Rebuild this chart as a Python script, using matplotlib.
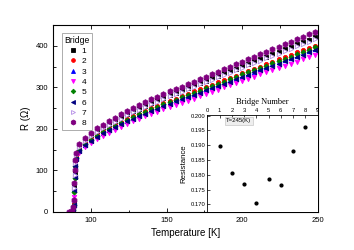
import matplotlib
matplotlib.use("Agg")
import matplotlib.pyplot as plt
import numpy as np

# ---------------- data ----------------
T_trans = [85.5, 86.8, 87.6, 88.2, 88.6, 89.0, 89.4, 89.8, 90.4]
T_main = list(range(92, 249, 4))

trans = {
    1: [0, 0, 2, 8, 25, 60, 95, 120, 138],
    2: [0, 0, 1, 6, 20, 50, 85, 112, 132],
    3: [0, 0, 1, 6, 20, 55, 88, 112, 130],
    4: [0, 0, 1, 4, 15, 35, 80, 105, 125],
    5: [0, 0, 1, 5, 18, 48, 82, 110, 130],
    6: [0, 0, 1, 5, 18, 52, 85, 110, 128],
    7: [0, 0, 2, 10, 28, 58, 90, 118, 136],
    8: [0, 1, 3, 12, 30, 70, 100, 125, 142],
}

main = {
    1: [158,174,185,195,204,212,220,228,236,243,249,256,263,269,275,281,287,293,299,305,
        310,316,322,328,334,340,345,351,357,363,369,374,380,386,392,398,404,409,415,421],
    2: [150,165,176,185,194,202,209,217,224,231,237,243,250,255,262,267,273,278,284,290,
        295,301,306,312,317,323,328,334,339,345,350,356,361,367,372,378,384,389,395,400],
    3: [148,162,173,182,190,198,205,213,220,226,233,239,245,251,257,262,268,273,279,284,
        290,295,300,306,311,317,322,328,333,338,344,349,355,360,366,371,376,382,387,393],
    4: [142,156,166,175,183,191,198,205,212,218,224,230,236,241,247,253,258,263,268,273,
        279,284,289,294,300,305,310,315,321,326,331,336,341,347,352,357,362,368,373,378],
    5: [149,163,174,184,192,200,207,215,222,228,235,241,247,253,259,265,270,276,281,287,
        292,298,303,309,314,320,325,331,336,341,347,352,358,363,369,374,380,385,391,396],
    6: [146,161,172,180,189,197,204,211,218,225,231,237,243,249,255,260,266,271,277,282,
        287,293,298,304,309,314,320,325,330,336,341,347,352,357,363,368,374,379,384,390],
    7: [156,171,183,193,201,210,217,225,233,240,246,253,260,265,272,278,284,289,295,301,
        307,312,318,324,330,335,341,347,353,358,364,370,376,381,387,393,399,404,410,416],
    8: [163,179,191,201,210,219,227,235,243,250,257,264,271,277,284,290,296,302,308,314,
        320,326,332,338,344,350,356,362,368,374,380,386,392,398,404,410,416,422,428,434],
}

bridge_numbers = [1, 2, 3, 4, 5, 6, 7, 8]
resistance_245 = [0.1897, 0.1805, 0.1770, 0.1705, 0.1786, 0.1764, 0.1880, 0.1961]

styles = {
    1: dict(marker='s', color='black', mfc='black', ms=2.8),
    2: dict(marker='o', color='red', mfc='red', ms=3.0),
    3: dict(marker='^', color='blue', mfc='blue', ms=3.2),
    4: dict(marker='v', color='magenta', mfc='magenta', ms=3.2),
    5: dict(marker='D', color='green', mfc='green', ms=2.6),
    6: dict(marker='<', color='navy', mfc='navy', ms=3.2),
    7: dict(marker='>', color='#b48ce6', mfc='white', ms=3.2),
    8: dict(marker='h', color='purple', mfc='purple', ms=4.0),
}

sans = ['Liberation Sans', 'DejaVu Sans']
serif = ['Liberation Serif', 'DejaVu Serif']
plt.rcParams['font.family'] = sans

fig = plt.figure(figsize=(3.54, 2.50), dpi=100)
ax = fig.add_axes([0.1497, 0.152, 0.7483, 0.748])

for b in bridge_numbers:
    st = styles[b]
    T = T_trans + T_main
    R = trans[b] + main[b]
    ax.plot(T, R, linestyle='none', marker=st['marker'], color=st['color'],
            mfc=st['mfc'], mec=st['color'], ms=st['ms'], mew=0.6, label=str(b))

ax.set_xlim(75, 250)
ax.set_ylim(0, 450)
ax.set_xticks([100, 150, 200, 250])
ax.set_xticks([125, 175, 225], minor=True)
ax.set_yticks([0, 100, 200, 300, 400])
ax.set_yticks([50, 150, 250, 350], minor=True)
ax.tick_params(which='both', direction='in', top=True, right=True, labelsize=5.5, width=0.6)
ax.tick_params(which='major', length=3)
ax.tick_params(which='minor', length=1.8)
for s in ax.spines.values():
    s.set_linewidth(0.8)
ax.set_xlabel('Temperature [K]', fontsize=7, labelpad=3)
ax.set_ylabel('R (Ω)', fontsize=7, labelpad=3)

leg = ax.legend(title='Bridge', loc='upper left', bbox_to_anchor=(0.034, 0.957),
                borderaxespad=0, fontsize=6, title_fontsize=6.2, frameon=True,
                fancybox=False, edgecolor='#888888', handlelength=1.1,
                handletextpad=0.5, borderpad=0.3, labelspacing=0.3, markerscale=0.9)
leg.get_frame().set_linewidth(0.6)
for t in leg.get_texts():
    t.set_ha('right')

# ---------------- inset ----------------
ins = fig.add_axes([0.586, 0.152, 0.311, 0.388])
ins.plot(bridge_numbers, resistance_245, linestyle='none', marker='o', color='black',
         ms=2.0)
ins.set_xlim(0, 9)
ins.set_ylim(0.1674, 0.2002)
ins.set_xticks(range(0, 10))
ins.set_yticks([0.170, 0.175, 0.180, 0.185, 0.190, 0.195, 0.200])
ins.set_yticklabels(['0.170', '0.175', '0.180', '0.185', '0.190', '0.195', '0.200'])
ins.xaxis.set_ticks_position('top')
ins.xaxis.set_label_position('top')
ins.tick_params(direction='in', labelsize=4.2, length=1.8, width=0.5, pad=1.5)
ins.tick_params(axis='x', top=True, bottom=False)
ins.spines['bottom'].set_visible(False)
for s in ins.spines.values():
    s.set_linewidth(0.6)
ins.set_xlabel('Bridge Number', fontsize=6, family=serif, labelpad=2.5)
ins.set_ylabel('Resistance', fontsize=5.6, labelpad=2)
ins.text(1.55, 0.1982, 'T=245(K)', fontsize=4.3, va='center', ha='left',
         bbox=dict(boxstyle='square,pad=0.3', fc='#eeeeee', ec='#bbbbbb', lw=0.4))

fig.savefig('out.png', dpi=100)
